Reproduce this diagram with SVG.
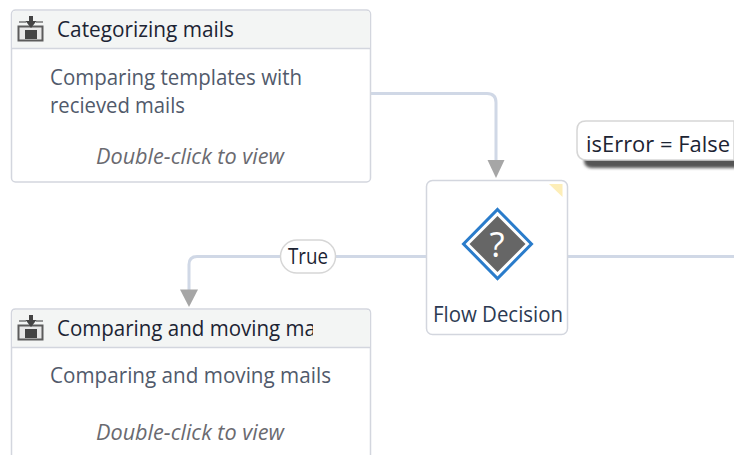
<svg xmlns="http://www.w3.org/2000/svg" width="734" height="455" viewBox="0 0 734 455">
<style>
text{font-family:"Open Sans","Noto Sans","Liberation Sans",sans-serif;font-size:21px}
.card{fill:#fff;stroke:#d3d6de;stroke-width:1.5}
.head{fill:#f3f5f4}
.sep{stroke:#d3d6de;stroke-width:1.5;fill:none}
.title{fill:#1c2433}
.body{fill:#515a6b}
.hint{fill:#6a6a70;font-style:italic}
.conn{fill:none;stroke:#d0d8e6;stroke-width:3}
.arrow{fill:#a6a6a6}
</style>
<defs>
<g id="icon">
<path d="M19 22H26M36 22H43" fill="none" stroke="#777" stroke-width="1.500"/>
<rect x="18.500" y="26.500" width="24" height="14" fill="#e8e8e8" stroke="#5c5c5c" stroke-width="2"/>
<rect x="25" y="30" width="12" height="9" fill="#444"/>
<path d="M29 16H33V21H36.500L31 28L25.500 21H29Z" fill="#444"/>
</g>
<clipPath id="clip"><rect x="50" y="310" width="263" height="36"/></clipPath>
<filter id="soft" x="-10%" y="-50%" width="120%" height="200%"><feGaussianBlur stdDeviation="1.800"/></filter>
</defs>
<g id="connectors">
<path class="conn" d="M370 93.500H487Q496 93.500 496 102.500V160"/>
<path class="arrow" d="M487.500 160H504.500L496 178Z"/>
<path class="conn" d="M426 256.500H197Q189 256.500 189 264.500V290"/>
<path class="arrow" d="M180 289.500H198L189 307Z"/>
<path class="conn" d="M568 256.500H734"/>
</g>
<g id="node-categorizing">
<rect class="card" x="11.500" y="10" width="359" height="172" rx="4"/>
<path class="head" d="M12.500 48V14Q12.500 11 15.500 11H366.500Q369.500 11 369.500 14V48Z"/>
<path class="sep" d="M12 48.500H370"/>
<use href="#icon"/>
<text class="title" x="57" y="36.500" textLength="177" lengthAdjust="spacingAndGlyphs">Categorizing mails</text>
<text class="body" x="50" y="84.500" textLength="252" lengthAdjust="spacingAndGlyphs">Comparing templates with</text>
<text class="body" x="50" y="112.500" textLength="135" lengthAdjust="spacingAndGlyphs">recieved mails</text>
<text class="hint" x="96" y="163.500" textLength="188" lengthAdjust="spacingAndGlyphs">Double-click to view</text>
</g>
<g id="node-comparing">
<path class="card" d="M11.500 455V313Q11.500 309 15.500 309H366.500Q370.500 309 370.500 313V455"/>
<path class="head" d="M12.500 347V313Q12.500 310 15.500 310H366.500Q369.500 310 369.500 313V347Z"/>
<path class="sep" d="M12 347.500H370"/>
<use href="#icon" y="299"/>
<g clip-path="url(#clip)"><text class="title" x="57" y="335.500" textLength="279" lengthAdjust="spacingAndGlyphs">Comparing and moving mails</text></g>
<text class="body" x="50" y="382.500" textLength="281" lengthAdjust="spacingAndGlyphs">Comparing and moving mails</text>
<text class="hint" x="96" y="439.500" textLength="188" lengthAdjust="spacingAndGlyphs">Double-click to view</text>
</g>
<g id="node-decision">
<rect class="card" x="426.500" y="180.500" width="141" height="154" rx="6"/>
<path d="M549 184H562.500V197Z" fill="#fdeeb8"/>
<path d="M497.500 209.500L531.500 244L497.500 278.500L463.500 244Z" fill="#fff" stroke="#2a7ccb" stroke-width="3"/>
<path d="M497.500 216L525.500 244L497.500 272L469.500 244Z" fill="#666"/>
<text x="497" y="257" text-anchor="middle" fill="#fff" style="font-size:35px">?</text>
<text x="498" y="321.500" text-anchor="middle" fill="#2c3a52" textLength="130" lengthAdjust="spacingAndGlyphs">Flow Decision</text>
</g>
<g id="label-true">
<rect x="280.500" y="240" width="55" height="33" rx="16.500" fill="#fff" stroke="#d6d6d6" stroke-width="1.500"/>
<text class="title" x="308" y="264" text-anchor="middle" textLength="40" lengthAdjust="spacingAndGlyphs">True</text>
</g>
<g id="label-false">
<path d="M740 168H592Q584 168 584 160V156H740Z" fill="#555" filter="url(#soft)"/>
<path d="M734 121H586Q577 121 577 130V150Q577 160 587 160H734Z" fill="#fff" stroke="#d6d6d6" stroke-width="1.500"/>
<text class="title" x="586" y="152" textLength="144" lengthAdjust="spacingAndGlyphs">isError = False</text>
</g>
</svg>
